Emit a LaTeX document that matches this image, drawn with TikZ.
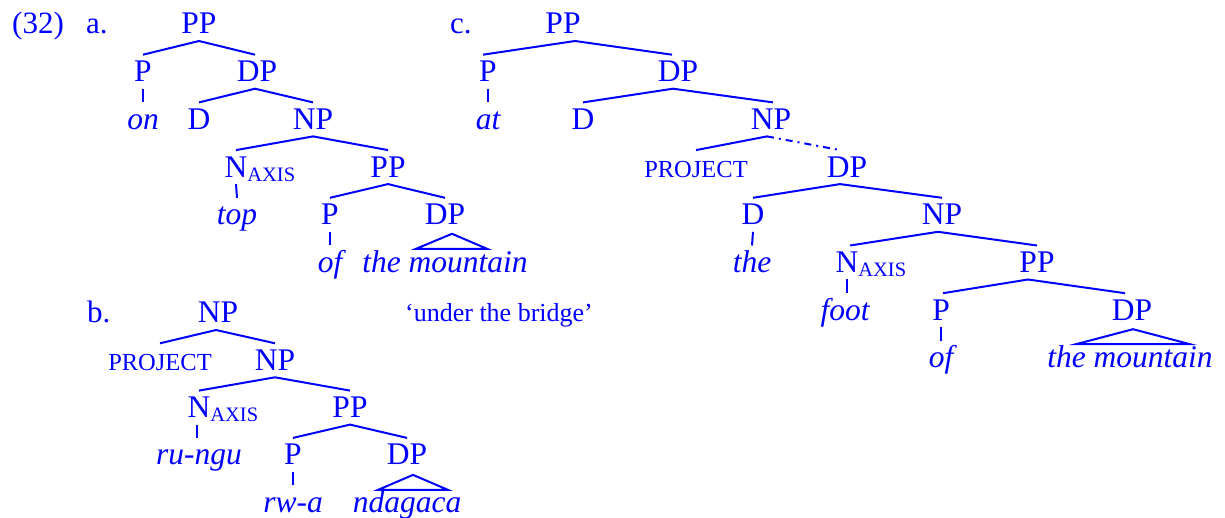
\documentclass[tikz,border=0pt]{standalone}
\usepackage{fontspec}
\setmainfont{Liberation Serif}
\usetikzlibrary{calc}
\newcommand\NAxis{N\rlap{\raisebox{-4pt}{\fontsize{20.5}{20.5}\selectfont AXIS}}}
\begin{document}
\begin{tikzpicture}[x=1pt,y=-1pt,
  lbl/.style={anchor=base, inner sep=0pt, outer xsep=0pt, outer ysep=7pt,
    text height=20pt, text depth=0pt, text=blue, font=\fontsize{31.5}{31.5}\selectfont},
  lf/.style={lbl, font=\fontsize{31.5}{31.5}\selectfont\itshape},
  sc/.style={lbl, font=\fontsize{24.5}{24.5}\selectfont},
  tag/.style={anchor=base west, inner sep=0pt, text=blue, font=\fontsize{31}{31}\selectfont},
  gloss/.style={anchor=base, inner sep=0pt, text=blue, font=\fontsize{26}{26}\selectfont},
  br/.style={draw=blue, line width=2pt},
  dd/.style={br, dash pattern=on 7pt off 5pt on 2pt off 5pt},
  tri/.style={br, line join=miter}
]
\useasboundingbox (0,0) rectangle (1225,518);

% labels
\node[tag] (n32) at (12,34) {(32)};
\node[tag] (la) at (86,34) {a.};
\node[tag] (lb) at (87,323) {b.};
\node[tag] (lc) at (450,34) {c.};
\node[gloss] (gl) at (499,322) {‘under the bridge’};

% tree a
\node[lbl] (aPP) at (199,34) {PP};
\node[lbl] (aP) at (143,81.7) {P};
\node[lbl] (aDP) at (257,81.7) {DP};
\node[lf] (aon) at (143,129.4) {on};
\node[lbl] (aD) at (199,129.4) {D};
\node[lbl] (aNP) at (313,129.4) {NP};
\node[lbl] (aN) at (236,177.1) {\NAxis};
\node[lbl] (aPP2) at (388,177.1) {PP};
\node[lf] (atop) at (237,224.8) {top};
\node[lbl] (aP2) at (330,224.8) {P};
\node[lbl] (aDP2) at (445,224.8) {DP};
\node[lf] (aof) at (330,272.5) {of};
\node[lf] (amtn) at (445,272.5) {the mountain};

\draw[br] (aPP.south) -- (aP.north);
\draw[br] (aPP.south) -- ([xshift=-2pt]aDP.north);
\draw[br] (aP.south) -- (aon.north);
\draw[br] ([xshift=-2pt]aDP.south) -- (aD.north);
\draw[br] ([xshift=-2pt]aDP.south) -- (aNP.north);
\draw[br] (aNP.south) -- (aN.north);
\draw[br] (aNP.south) -- (aPP2.north);
\draw[br] (aN.south) -- (atop.north);
\draw[br] (aPP2.south) -- (aP2.north);
\draw[br] (aPP2.south) -- (aDP2.north);
\draw[br] (aP2.south) -- (aof.north);
\draw[tri] ($(aDP2.base)+(7,9)$) -- ++(-36,15) -- ++(71,0) -- cycle;

% tree b
\node[lbl] (bNP) at (218,323) {NP};
\node[sc] (bPROJ) at (160,370.3) {PROJECT};
\node[lbl] (bNP2) at (275,370.3) {NP};
\node[lbl] (bN) at (199,417.6) {\NAxis};
\node[lbl] (bPP) at (350,417.6) {PP};
\node[lf] (bru) at (199,464.9) {ru-ngu};
\node[lbl] (bP) at (293,464.9) {P};
\node[lbl] (bDP) at (407,464.9) {DP};
\node[lf] (brw) at (293,512.2) {rw-a};
\node[lf] (bnd) at (407,512.2) {ndagaca};

\draw[br] ([xshift=-2pt]bNP.south) -- (bPROJ.north);
\draw[br] ([xshift=-2pt]bNP.south) -- (bNP2.north);
\draw[br] (bNP2.south) -- (bN.north);
\draw[br] (bNP2.south) -- (bPP.north);
\draw[br] ([xshift=-2pt]bN.south) -- ([xshift=-2pt]bru.north);
\draw[br] (bPP.south) -- (bP.north);
\draw[br] (bPP.south) -- (bDP.north);
\draw[br] (bP.south) -- (brw.north);
\draw[tri] ($(bDP.base)+(6,10)$) -- ++(-35,15) -- ++(70,0) -- cycle;

% tree c
\node[lbl] (cPP) at (563,34) {PP};
\node[lbl] (cP) at (488,81.7) {P};
\node[lbl] (cDP) at (678,81.7) {DP};
\node[lf] (cat) at (488,129.4) {at};
\node[lbl] (cD) at (583,129.4) {D};
\node[lbl] (cNP) at (771,129.4) {NP};
\node[sc] (cPROJ) at (696,177.1) {PROJECT};
\node[lbl] (cDP2) at (847,177.1) {DP};
\node[lbl] (cD2) at (753,224.8) {D};
\node[lbl] (cNP2) at (942,224.8) {NP};
\node[lf] (cthe) at (752,272.5) {the};
\node[lbl] (cN) at (847,272.5) {\NAxis};
\node[lbl] (cPP2) at (1037,272.5) {PP};
\node[lf] (cfoot) at (845,320.2) {foot};
\node[lbl] (cP2) at (941,320.2) {P};
\node[lbl] (cDP3) at (1132,320.2) {DP};
\node[lf] (cof) at (941,367.9) {of};
\node[lf] (cmtn) at (1130,367.9) {the mountain};

\draw[br] ([xshift=12pt]cPP.south) -- ([xshift=-5pt]cP.north);
\draw[br] ([xshift=12pt]cPP.south) -- ([xshift=-6pt]cDP.north);
\draw[br] (cP.south) -- (cat.north);
\draw[br] ([xshift=-5pt]cDP.south) -- (cD.north);
\draw[br] ([xshift=-5pt]cDP.south) -- ([xshift=2pt]cNP.north);
\draw[br] ([xshift=-4pt]cNP.south) -- (cPROJ.north);
\draw[dd] ([xshift=-4pt]cNP.south) -- ([xshift=-7pt]cDP2.north);
\draw[br] ([xshift=-7pt]cDP2.south) -- (cD2.north);
\draw[br] ([xshift=-7pt]cDP2.south) -- (cNP2.north);
\draw[br] (cD2.south) -- (cthe.north);
\draw[br] ([xshift=-4pt]cNP2.south) -- ([xshift=3pt]cN.north);
\draw[br] ([xshift=-4pt]cNP2.south) -- (cPP2.north);
\draw[br] (cN.south) -- ([xshift=2pt]cfoot.north);
\draw[br] ([xshift=-9pt]cPP2.south) -- ([xshift=2pt]cP2.north);
\draw[br] ([xshift=-9pt]cPP2.south) -- ([xshift=-7pt]cDP3.north);
\draw[br] (cP2.south) -- (cof.north);
\draw[tri] ($(cDP3.base)+(1,9)$) -- ++(-57,15) -- ++(114,0) -- cycle;
\end{tikzpicture}
\end{document}
